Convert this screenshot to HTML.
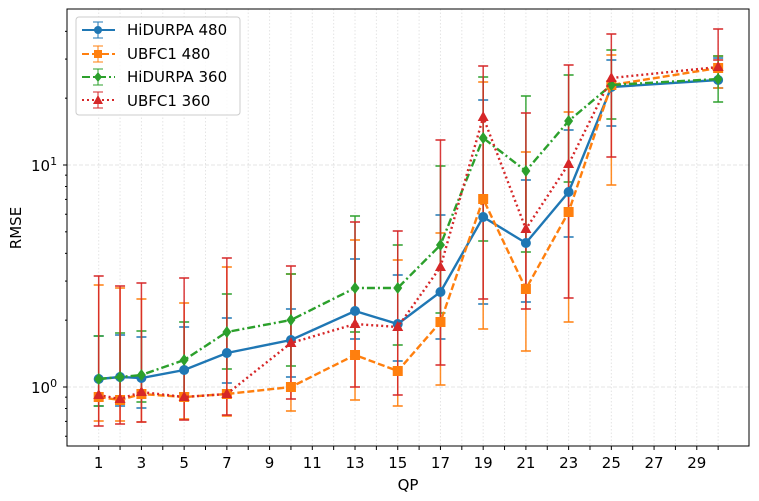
<!DOCTYPE html>
<html><head><meta charset="utf-8"><style>
body{margin:0;background:#fff}
svg{display:block;font-family:"DejaVu Sans","Liberation Sans",sans-serif}
</style></head><body>
<svg id="s" width="759" height="501" viewBox="0 0 759 501" xmlns="http://www.w3.org/2000/svg">
<rect width="759" height="501" fill="#fff"/>
<g id="grid"></g>
<g id="err"></g>
<g id="lines"></g>
<rect x="67" y="9" width="682" height="437" fill="none" stroke="#000" stroke-width="1"/>
<g id="ticks"></g>
<text x="408" y="490" font-size="15" text-anchor="middle">QP</text>
<text transform="translate(21,228) rotate(-90)" font-size="15" text-anchor="middle">RMSE</text>
<text x="31" y="393" font-size="15">10<tspan dy="-6" font-size="11">0</tspan></text>
<text x="31" y="171" font-size="15">10<tspan dy="-6" font-size="11">1</tspan></text>
<g>
<rect x="76" y="17" width="164" height="98" rx="3" fill="#fff" fill-opacity="0.8" stroke="#ccc"/>
<line x1="82" y1="30" x2="115" y2="30" stroke="#1f77b4" stroke-width="2"/><line x1="98" y1="22" x2="98" y2="38" stroke="#1f77b4"/><line x1="93" y1="22" x2="103" y2="22" stroke="#1f77b4"/><line x1="93" y1="38" x2="103" y2="38" stroke="#1f77b4"/><circle cx="98" cy="30" r="4" fill="#1f77b4"/>
<text x="127" y="35" font-size="15">HiDURPA 480</text>
<line x1="82" y1="54" x2="115" y2="54" stroke="#ff7f0e" stroke-width="2" stroke-dasharray="7,3"/><line x1="98" y1="46" x2="98" y2="62" stroke="#ff7f0e"/><line x1="93" y1="46" x2="103" y2="46" stroke="#ff7f0e"/><line x1="93" y1="62" x2="103" y2="62" stroke="#ff7f0e"/><rect x="94" y="50" width="8" height="8" fill="#ff7f0e"/>
<text x="127" y="59" font-size="15">UBFC1 480</text>
<line x1="82" y1="77" x2="115" y2="77" stroke="#2ca02c" stroke-width="2" stroke-dasharray="8,3,2,3"/><line x1="98" y1="69" x2="98" y2="85" stroke="#2ca02c"/><line x1="93" y1="69" x2="103" y2="69" stroke="#2ca02c"/><line x1="93" y1="85" x2="103" y2="85" stroke="#2ca02c"/><path d="M98 72 L102 77 L98 82 L94 77Z" fill="#2ca02c"/>
<text x="127" y="82" font-size="15">HiDURPA 360</text>
<line x1="82" y1="100" x2="115" y2="100" stroke="#d62728" stroke-width="2" stroke-dasharray="2,3"/><line x1="98" y1="92" x2="98" y2="108" stroke="#d62728"/><line x1="93" y1="92" x2="103" y2="92" stroke="#d62728"/><line x1="93" y1="108" x2="103" y2="108" stroke="#d62728"/><path d="M98 95 L103 104 L93 104Z" fill="#d62728"/>
<text x="127" y="106" font-size="15">UBFC1 360</text>
</g>
</svg>
<script>
const NS="http://www.w3.org/2000/svg";
function el(p,t,a){const e=document.createElementNS(NS,t);for(const k in a)e.setAttribute(k,a[k]);document.getElementById(p).appendChild(e);return e;}
const X=v=>98.7+(v-1)*21.36, Y=v=>387-222*Math.log10(v);
for(let i=1;i<=30;i++){el("grid","line",{x1:X(i),x2:X(i),y1:9,y2:446,stroke:"#e4e4e4","stroke-dasharray":"1.5,2",});
el("ticks","line",{x1:X(i),x2:X(i),y1:446,y2:450,stroke:"#000"});
if(i%2==1){const t=el("ticks","text",{x:X(i),y:468,"font-size":15,"text-anchor":"middle"});t.textContent=i;}}
el("grid","line",{x1:67,x2:749,y1:387,y2:387,stroke:"#e4e4e4","stroke-dasharray":"4,2"});
el("grid","line",{x1:67,x2:749,y1:165,y2:165,stroke:"#e4e4e4","stroke-dasharray":"4,2"});
[1,10].forEach(d=>{el("ticks","line",{x1:63,x2:67,y1:Y(d),y2:Y(d),stroke:"#000"});});
[0.6,0.7,0.8,0.9,2,3,4,5,6,7,8,9,20,30,40].forEach(v=>el("ticks","line",{x1:65,x2:67,y1:Y(v),y2:Y(v),stroke:"#000"}));
const xs=[1,2,3,5,7,10,13,15,17,19,21,23,25,30];
const S=[
{c:"#1f77b4",d:"",m:"o",y:[379,377,378,370,353,340,311,324,292,217,243,192,87,80],
 e:[[336,406],[335,406],[337,408],[327,393],[318,383],[309,377],[259,339],[275,361],[215,339],[100,304],[180,302],[130,237],[60,126],[58,88]]},
{c:"#ff7f0e",d:"7,3",m:"s",y:[397,400,394,397,394,387,355,371,322,199,289,212,85,68],
 e:[[285,421],[288,421],[299,422],[303,419],[267,416],[274,411],[240,400],[260,406],[233,385],[82,329],[152,351],[112,322],[55,185],[56,88]]},
{c:"#2ca02c",d:"8,3,2,3",m:"d",y:[379,377,375,360,332,320,288,288,245,138,171,121,85,79],
 e:[[336,406],[333,404],[331,402],[322,393],[294,369],[274,366],[216,332],[245,345],[166,313],[77,241],[96,252],[75,182],[50,119],[56,102]]},
{c:"#d62728",d:"2,3",m:"t",y:[395,399,392,397,394,343,324,327,267,117,229,164,78,67],
 e:[[276,426],[286,424],[283,422],[278,420],[258,415],[266,399],[222,387],[231,395],[140,365],[66,299],[113,309],[65,298],[34,157],[29,60]]}
];
S.forEach(s=>{s.e.forEach((e,i)=>{const x=X(xs[i]);
el("err","line",{x1:x,x2:x,y1:e[0],y2:e[1],stroke:s.c,"stroke-width":1.5,"stroke-opacity":0.9});
el("err","line",{x1:x-5,x2:x+5,y1:e[0],y2:e[0],stroke:s.c,"stroke-width":1.5});
el("err","line",{x1:x-5,x2:x+5,y1:e[1],y2:e[1],stroke:s.c,"stroke-width":1.5});});});
S.forEach(s=>{const pts=s.y.map((y,i)=>X(xs[i])+","+y).join(" ");
const a={points:pts,fill:"none",stroke:s.c,"stroke-width":2.4};if(s.d)a["stroke-dasharray"]=s.d;el("lines","polyline",a);
s.y.forEach((y,i)=>{const x=X(xs[i]);
if(s.m=="o")el("lines","circle",{cx:x,cy:y,r:5,fill:s.c});
if(s.m=="s")el("lines","rect",{x:x-5,y:y-5,width:10,height:10,fill:s.c});
if(s.m=="d")el("lines","path",{d:`M${x} ${y-6}L${x+4.5} ${y}L${x} ${y+6}L${x-4.5} ${y}Z`,fill:s.c});
if(s.m=="t")el("lines","path",{d:`M${x} ${y-6}L${x+5.5} ${y+4}L${x-5.5} ${y+4}Z`,fill:s.c});});});
</script>
</body></html>
